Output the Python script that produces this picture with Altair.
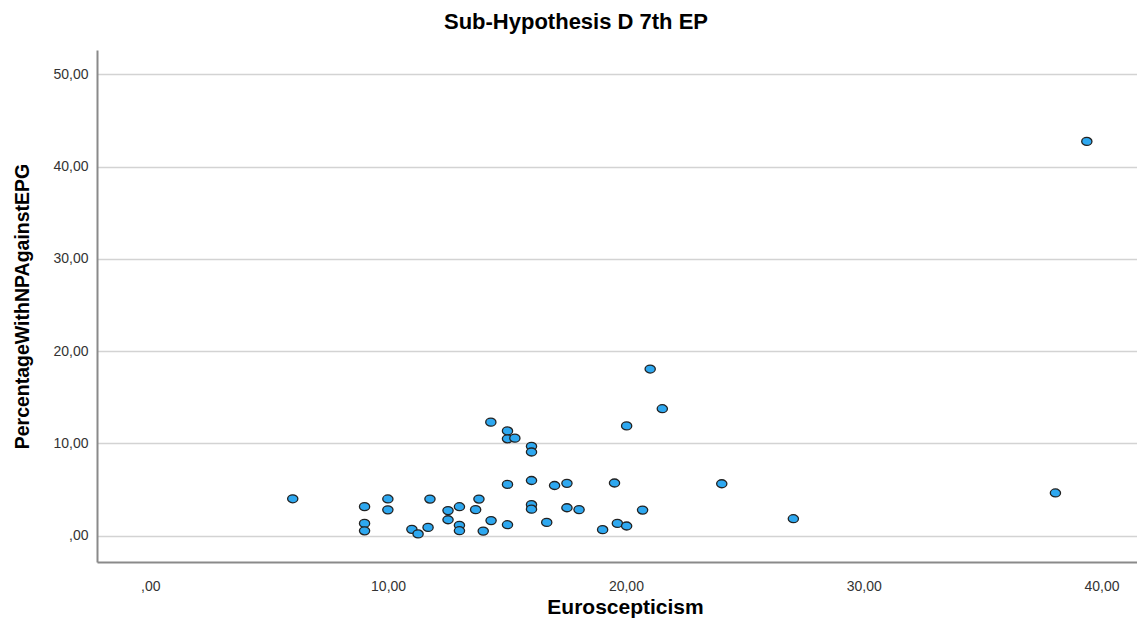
import altair as alt
import pandas as pd

# Values
euroscepticism = [
    5.99, 9.01, 9.01, 9.01, 9.99, 9.99, 11.0, 11.26, 11.68, 11.76,
    12.52, 12.52, 13.0, 13.0, 13.0, 13.68, 13.82, 14.0, 14.33, 14.32,
    15.02, 15.02, 15.33, 15.02, 15.02, 16.03, 16.03, 16.03, 16.03, 16.03,
    16.67, 21.02, 21.53, 20.03, 17.0, 17.52, 17.52, 18.03, 19.52, 19.02,
    19.64, 20.03, 20.7, 24.03, 27.04, 38.06, 39.38,
]
percentage = [
    4.0, 3.15, 1.33, 0.53, 3.98, 2.8, 0.69, 0.19, 0.9, 3.97,
    2.72, 1.73, 3.14, 1.12, 0.54, 2.82, 3.97, 0.5, 1.64, 12.3,
    11.35, 10.5, 10.57, 5.56, 1.19, 9.68, 9.07, 5.98, 3.36, 2.87,
    1.44, 18.06, 13.76, 11.9, 5.44, 5.67, 3.03, 2.82, 5.71, 0.65,
    1.33, 1.05, 2.78, 5.63, 1.84, 4.63, 42.72,
]
x_ticks = [0, 10, 20, 30, 40]
y_ticks = [0, 10, 20, 30, 40, 50]

df = pd.DataFrame({
    "Euroscepticism": euroscepticism,
    "PercentageWithNPAgainstEPG": percentage,
})

label_expr = "datum.value == 0 ? ',00' : replace(format(datum.value, '.2f'), '.', ',')"
ellipse = "M -1 0 A 1 0.78 0 1 0 1 0 A 1 0.78 0 1 0 -1 0 Z"

chart = alt.Chart(df).mark_point(
    shape=ellipse, filled=True, fill="#2ea8f0", stroke="#222222",
    strokeWidth=1.3, size=105, opacity=1, fillOpacity=1, strokeOpacity=1,
).encode(
    x=alt.X(
        "Euroscepticism:Q",
        scale=alt.Scale(domain=[-2.24, 41.49], nice=False, zero=False),
        axis=alt.Axis(
            values=x_ticks, labelExpr=label_expr, grid=False, ticks=False,
            tickSize=0, labelPadding=17, title="Euroscepticism",
            titleX=528, titleY=45, titleBaseline="middle", titleAlign="center",
            titleFontSize=21,
        ),
    ),
    y=alt.Y(
        "PercentageWithNPAgainstEPG:Q",
        scale=alt.Scale(domain=[-2.85, 52.63], nice=False, zero=False),
        axis=alt.Axis(
            values=y_ticks, labelExpr=label_expr, grid=True, ticks=False,
            tickSize=0, labelPadding=9, title="PercentageWithNPAgainstEPG",
            titleX=-75, titleY=256, titleAngle=270, titleBaseline="middle",
            titleAlign="center", titleFontSize=19.5,
        ),
    ),
).properties(
    width=1040,
    height=512,
    title=alt.TitleParams(
        "Sub-Hypothesis D 7th EP", font="Liberation Sans", fontSize=22,
        fontWeight="bold", color="#000000", anchor="middle",
        baseline="middle", offset=6, dx=-41,
    ),
    autosize=alt.AutoSizeParams(type="none"),
    padding={"left": 89, "top": 42, "right": 0, "bottom": 57},
).configure_axis(
    labelFont="Liberation Sans", labelFontSize=14, labelColor="#333333",
    titleFont="Liberation Sans", titleFontWeight="bold",
    titleColor="#000000", domainColor="#8a8a8a", domainWidth=2,
    gridColor="#d3d3d3", gridWidth=1.5,
).configure_view(stroke="transparent")

chart.save("out.html", embed_options={"renderer": "svg", "actions": False})
